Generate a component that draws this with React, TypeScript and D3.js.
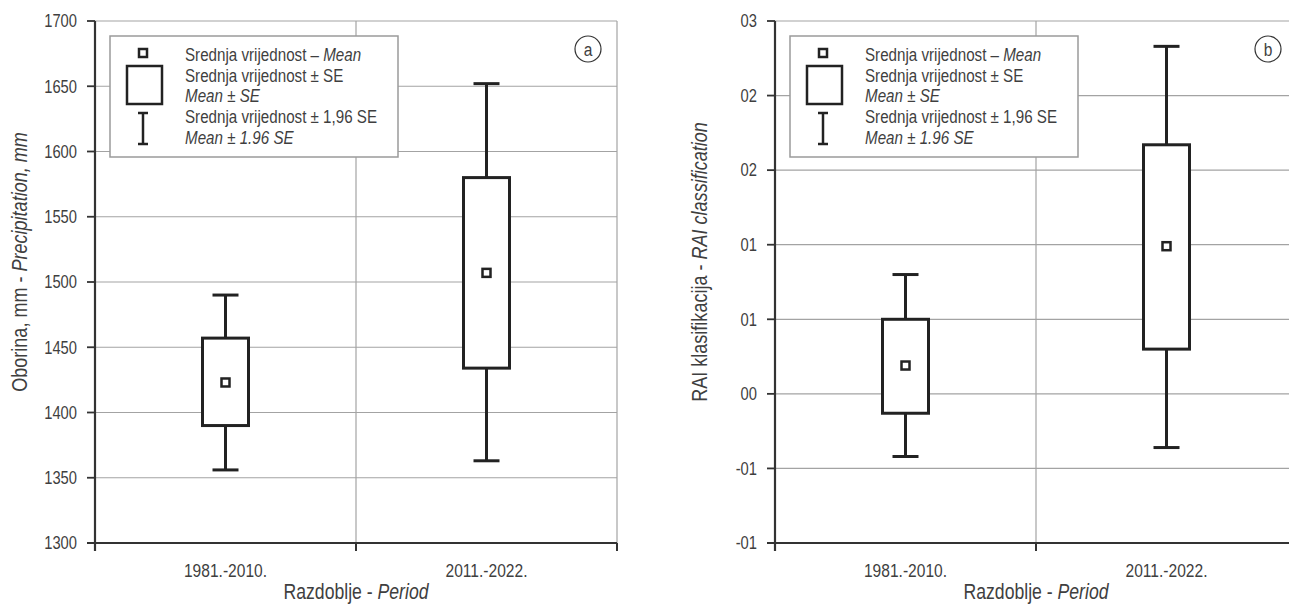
import * as d3 from "d3";
import type { ReactNode } from "react";

// --- data ---

const periods = ["1981.-2010.", "2011.-2022."];

// panel a: oborina (mm)
const precipMean = [1423, 1507];
const precipSeLow = [1390, 1434];
const precipSeHigh = [1457, 1580];
const precipCiLow = [1356, 1363];
const precipCiHigh = [1490, 1652];
const precipTicks = [1300, 1350, 1400, 1450, 1500, 1550, 1600, 1650, 1700];
const precipTickLabels = precipTicks.map((t) => String(t));

// panel b: RAI klasifikacija
const raiMean = [0.019, 0.099];
const raiSeLow = [-0.013, 0.03];
const raiSeHigh = [0.05, 0.167];
const raiCiLow = [-0.042, -0.036];
const raiCiHigh = [0.08, 0.233];
const raiTicks = [-0.1, -0.05, 0, 0.05, 0.1, 0.15, 0.2, 0.25];
const raiTickLabels = ["-01", "-01", "00", "01", "01", "02", "02", "03"];

// --- style ---

// no narrow font installed: Liberation Sans squeezed horizontally
const FONT = '"Liberation Sans", Arial, sans-serif';
const SQUEEZE = 0.82;
const TEXT_COLOR = "#3f3f3f";
const GRID_COLOR = "#a3a3a3";
const AXIS_COLOR = "#333";
const MARK_COLOR = "#222";

const PLOT = {
  top: 21,
  bottom: 543,
  width: 522,
  tickSize: 8,
  boxWidth: 46,
  capWidth: 26,
  meanSize: 8,
};

type NTextProps = {
  x: number;
  y: number;
  size: number;
  anchor?: "start" | "middle" | "end";
  rotate?: number;
  dy?: string;
  children: ReactNode;
};

function NText({ x, y, size, anchor = "start", rotate = 0, dy, children }: NTextProps) {
  return (
    <text
      transform={`translate(${x},${y}) rotate(${rotate}) scale(${SQUEEZE},1)`}
      textAnchor={anchor}
      dy={dy}
      fontSize={size}
      fontFamily={FONT}
      fill={TEXT_COLOR}
    >
      {children}
    </text>
  );
}

type PanelProps = {
  axisX: number; // x of the y axis line
  letter: string;
  mean: number[];
  seLow: number[];
  seHigh: number[];
  ciLow: number[];
  ciHigh: number[];
  ticks: number[];
  tickLabels: string[];
  yTitle: [string, string];
};

function Legend({ x }: { x: number }) {
  const lines: { plain: string; italic: string; y: number }[] = [
    { plain: "Srednja vrijednost – ", italic: "Mean", y: 61 },
    { plain: "Srednja vrijednost ± SE", italic: "", y: 82 },
    { plain: "", italic: "Mean ± SE", y: 102 },
    { plain: "Srednja vrijednost ± 1,96 SE", italic: "", y: 123 },
    { plain: "", italic: "Mean ± 1.96 SE", y: 144 },
  ];
  const symX = x + 33;
  return (
    <g>
      <rect x={x} y={36} width={288} height={121} fill="#fff" stroke="#9a9a9a" strokeWidth={1.5} />
      <rect x={symX - 4} y={49} width={8} height={8} fill="#fff" stroke={MARK_COLOR} strokeWidth={2.5} />
      <rect x={x + 17} y={66} width={35} height={38} fill="#fff" stroke={MARK_COLOR} strokeWidth={2.5} />
      <line x1={symX} x2={symX} y1={113} y2={144} stroke={MARK_COLOR} strokeWidth={2.5} />
      <line x1={symX - 5} x2={symX + 5} y1={113} y2={113} stroke={MARK_COLOR} strokeWidth={2.5} />
      <line x1={symX - 5} x2={symX + 5} y1={144} y2={144} stroke={MARK_COLOR} strokeWidth={2.5} />
      {lines.map((l, i) => (
        <NText key={i} x={x + 75} y={l.y} size={18.5}>
          {l.plain}
          {l.italic && <tspan fontStyle="italic">{l.italic}</tspan>}
        </NText>
      ))}
    </g>
  );
}

function Panel(p: PanelProps) {
  const x0 = p.axisX;
  const x1 = x0 + PLOT.width;
  const y = d3
    .scaleLinear()
    .domain([d3.min(p.ticks)!, d3.max(p.ticks)!])
    .range([PLOT.bottom, PLOT.top]);
  const x = d3.scaleBand<string>().domain(periods).range([x0, x1]).padding(0);
  const bounds = [x0, ...periods.map((c) => x(c)! + x.bandwidth())];

  return (
    <g>
      {/* grid */}
      {p.ticks.map((t) => (
        <line key={"h" + t} x1={x0} x2={x1} y1={y(t)} y2={y(t)} stroke={GRID_COLOR} strokeWidth={1.2} />
      ))}
      {bounds.slice(1).map((bx) => (
        <line key={"v" + bx} x1={bx} x2={bx} y1={PLOT.top} y2={PLOT.bottom} stroke={GRID_COLOR} strokeWidth={1.2} />
      ))}

      <Legend x={x0 + 15} />

      {/* circled panel letter */}
      <circle cx={x0 + 493} cy={49} r={13} fill="#fff" stroke={AXIS_COLOR} strokeWidth={1.2} />
      <NText x={x0 + 493} y={49} dy="0.35em" anchor="middle" size={19}>
        {p.letter}
      </NText>

      {/* axes */}
      <line x1={x0} x2={x0} y1={PLOT.top} y2={PLOT.bottom + PLOT.tickSize} stroke={AXIS_COLOR} strokeWidth={2.2} />
      <line x1={x0 - PLOT.tickSize} x2={x1} y1={PLOT.bottom} y2={PLOT.bottom} stroke={AXIS_COLOR} strokeWidth={2.2} />
      {p.ticks.map((t, i) => (
        <g key={"t" + t}>
          <line x1={x0 - PLOT.tickSize} x2={x0} y1={y(t)} y2={y(t)} stroke={AXIS_COLOR} strokeWidth={1.8} />
          <NText x={x0 - 18} y={y(t)} dy="0.35em" anchor="end" size={18}>
            {p.tickLabels[i]}
          </NText>
        </g>
      ))}
      {bounds.map((bx) => (
        <line key={"xt" + bx} x1={bx} x2={bx} y1={PLOT.bottom} y2={PLOT.bottom + PLOT.tickSize} stroke={AXIS_COLOR} strokeWidth={2} />
      ))}
      {periods.map((c) => (
        <NText key={c} x={x(c)! + x.bandwidth() / 2} y={577} anchor="middle" size={19}>
          {c}
        </NText>
      ))}
      <NText x={x0 + PLOT.width / 2} y={599} anchor="middle" size={21.5}>
        Razdoblje - <tspan fontStyle="italic">Period</tspan>
      </NText>
      <NText x={x0 - 76} y={262} rotate={-90} dy="0.35em" anchor="middle" size={22}>
        {p.yTitle[0]}
        <tspan fontStyle="italic">{p.yTitle[1]}</tspan>
      </NText>

      {/* boxes */}
      {periods.map((c, i) => {
        const cx = x(c)! + x.bandwidth() / 2;
        const hw = PLOT.boxWidth / 2;
        const cw = PLOT.capWidth / 2;
        const ms = PLOT.meanSize;
        return (
          <g key={"b" + c} stroke={MARK_COLOR} strokeWidth={3} fill="#fff">
            <line x1={cx} x2={cx} y1={y(p.ciHigh[i])} y2={y(p.ciLow[i])} />
            <line x1={cx - cw} x2={cx + cw} y1={y(p.ciHigh[i])} y2={y(p.ciHigh[i])} />
            <line x1={cx - cw} x2={cx + cw} y1={y(p.ciLow[i])} y2={y(p.ciLow[i])} />
            <rect x={cx - hw} y={y(p.seHigh[i])} width={PLOT.boxWidth} height={y(p.seLow[i]) - y(p.seHigh[i])} />
            <rect x={cx - ms / 2} y={y(p.mean[i]) - ms / 2} width={ms} height={ms} strokeWidth={2.5} />
          </g>
        );
      })}
    </g>
  );
}

export default function App() {
  return (
    <svg
      width={1289}
      height={604}
      style={{ position: "absolute", left: 0, top: 0, background: "#fff" }}
    >
      <Panel
        axisX={95}
        letter="a"
        mean={precipMean}
        seLow={precipSeLow}
        seHigh={precipSeHigh}
        ciLow={precipCiLow}
        ciHigh={precipCiHigh}
        ticks={precipTicks}
        tickLabels={precipTickLabels}
        yTitle={["Oborina, mm - ", "Precipitation, mm"]}
      />
      <Panel
        axisX={775}
        letter="b"
        mean={raiMean}
        seLow={raiSeLow}
        seHigh={raiSeHigh}
        ciLow={raiCiLow}
        ciHigh={raiCiHigh}
        ticks={raiTicks}
        tickLabels={raiTickLabels}
        yTitle={["RAI klasifikacija - ", "RAI classification"]}
      />
    </svg>
  );
}
